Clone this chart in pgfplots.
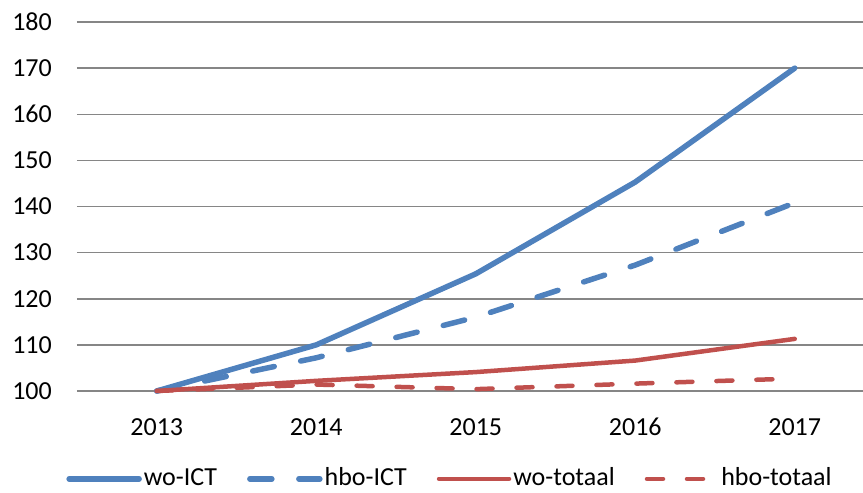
\documentclass[border=0pt]{standalone}
\usepackage{fontspec}
\setmainfont{Carlito}
\usepackage{pgfplots}
\pgfplotsset{compat=1.18}
\definecolor{xlblue}{HTML}{4F81BD}
\definecolor{xlred}{HTML}{C0504D}
\definecolor{xlgrid}{HTML}{868686}

\begin{document}
\fontsize{26}{31}\selectfont
\begin{tikzpicture}
\useasboundingbox (-77pt,-102pt) rectangle (786pt,391pt);
\begin{axis}[
    at={(0pt,0pt)}, anchor=south west,
    scale only axis, width=786pt, height=369pt,
    xmin=-0.5, xmax=4.428, ymin=100, ymax=180,
    xtick={0,1,2,3,4}, xticklabels={2013,2014,2015,2016,2017},
    ytick={100,110,...,180},
    ymajorgrids, grid style={xlgrid, line width=1.5pt},
    axis line style={draw=none}, major tick length=0pt,
    tick label style={font=\fontsize{26}{31}\selectfont},
    /pgf/number format/assume math mode=true,
    xticklabel style={anchor=base, inner sep=0pt, yshift=-44.5pt},
    yticklabel style={anchor=east, inner sep=0pt, xshift=-25pt},
    clip=false,
    legend columns=4,
    legend style={draw=none, fill=none, at={(rel axis cs:0.4746,-0.238)}, anchor=center,
        font=\fontsize{26}{28}\selectfont,
        nodes={inner xsep=2pt, inner ysep=0pt},
        /tikz/every even column/.append style={column sep=28pt}},
    legend image code/.code={\draw[#1] (0pt,0pt) -- (70pt,0pt);},
    every axis plot/.append style={line cap=round, line join=round},
]
\addplot[xlblue, line width=5.5pt] coordinates {
    (0,100) (1,110.0) (2,125.4) (3,145.3) (4,170.0)
};
\addlegendentry{wo-ICT}
\addplot[xlblue, line width=5.5pt, dash pattern=on 22pt off 27pt] coordinates {
    (0,100) (1,107.2) (2,116.0) (3,127.3) (4,140.8)
};
\addlegendentry{hbo-ICT}
\addplot[xlred, line width=4.5pt] coordinates {
    (0,100) (1,102.2) (2,104.1) (3,106.6) (4,111.3)
};
\addlegendentry{wo-totaal}
\addplot[xlred, line width=4.5pt, dash pattern=on 16pt off 24pt] coordinates {
    (0,100) (1,101.4) (2,100.4) (3,101.6) (4,102.7)
};
\addlegendentry{hbo-totaal}
\end{axis}
\end{tikzpicture}
\end{document}
